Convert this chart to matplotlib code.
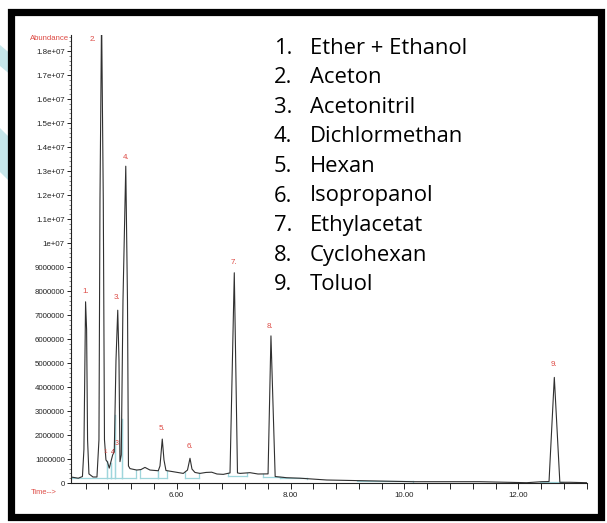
import numpy as np
import matplotlib.pyplot as plt
from matplotlib.patches import Rectangle, Polygon
from matplotlib.ticker import FuncFormatter, MultipleLocator

W, H = 607, 523

# chromatogram trace: retention time (min) and abundance (millions)
trace_time = [4.143, 4.196, 4.272, 4.345, 4.371, 4.400, 4.418, 4.435, 4.459, 4.530,
              4.600, 4.635, 4.653, 4.681, 4.711, 4.732, 4.758, 4.785, 4.816, 4.876,
              4.904, 4.934, 4.965, 4.987, 5.004, 5.027, 5.057, 5.106, 5.136, 5.153,
              5.180, 5.297, 5.373, 5.443, 5.531, 5.677, 5.707, 5.747, 5.777, 5.812,
              5.940, 6.116, 6.190, 6.234, 6.269, 6.321, 6.409, 6.515, 6.615, 6.708,
              6.819, 6.937, 7.012, 7.068, 7.112, 7.288, 7.428, 7.605, 7.656, 7.730,
              7.932, 8.166, 8.635, 9.162, 10.156, 11.328, 12.148, 12.411, 12.540, 12.633,
              12.730, 12.909, 13.200]
trace_abund = [0.25, 0.23, 0.20, 0.27, 1.40, 7.55, 6.40, 1.80, 0.38, 0.25,
               0.25, 1.80, 11.8, 19.5, 11.8, 1.80, 0.96, 0.875, 0.62, 1.17,
               1.30, 5.10, 7.20, 5.10, 0.89, 1.17, 7.60, 13.2, 7.60, 0.71,
               0.60, 0.54, 0.56, 0.65, 0.54, 0.51, 0.71, 1.83, 0.96, 0.52,
               0.47, 0.40, 0.54, 1.03, 0.58, 0.44, 0.40, 0.44, 0.45, 0.375,
               0.36, 0.42, 8.76, 0.42, 0.40, 0.43, 0.375, 0.38, 6.13, 0.27,
               0.22, 0.20, 0.125, 0.10, 0.054, 0.054, 0.0125, 0.054, 0.06, 4.40,
               0.03, 0.03, 0.0125]

# integration baselines (cyan)
integ_start = [4.161, 4.770, 4.841, 4.916, 5.034, 5.355, 5.666, 6.146, 6.906, 7.521, 7.815, 9.162, 12.382]
integ_end = [4.770, 4.841, 4.916, 5.034, 5.285, 5.666, 5.835, 6.397, 7.230, 7.872, 8.284, 10.156, 12.786]
integ_level = [0.20, 0.20, 0.20, 0.20, 0.20, 0.20, 0.20, 0.22, 0.30, 0.26, 0.20, 0.08, 0.04]

peak_names = ['1.', '2.', '3.', '4.', '5.', '6.', '7.', '8.', '9.']
label_time = [4.407, 4.530, 4.951, 5.109, 5.742, 6.234, 7.007, 7.639, 12.629]
label_abund = [7.96, 18.46, 7.71, 13.58, 2.29, 1.54, 9.17, 6.54, 4.92]

compounds = ['Ether + Ethanol', 'Aceton', 'Acetonitril', 'Dichlormethan', 'Hexan',
             'Isopropanol', 'Ethylacetat', 'Cyclohexan', 'Toluol']

red = '#dd4a44'
cyan = '#9fd6dc'

fig = plt.figure(figsize=(W / 100, H / 100), dpi=100)

# decorative cyan stripes at the left edge
for pts in ([(0, 45), (12, 55), (12, 76), (0, 66)], [(0, 128), (12, 140), (12, 184), (0, 172)]):
    fig.patches.append(Polygon([(x / W, 1 - y / H) for x, y in pts], closed=True, zorder=-3,
                               transform=fig.transFigure, facecolor='#c6e6ea', edgecolor='none'))

# black frame
fig.patches.append(Rectangle((10.5 / W, 1 - 516.5 / H), 590 / W, 505 / H, transform=fig.transFigure,
                             facecolor='white', edgecolor='black', linewidth=5.2, zorder=-2))

ax = fig.add_axes([71 / W, 1 - 483 / H, (586.6 - 71) / W, (483 - 35) / H])
ax.set_facecolor('none')

t = np.array(trace_time)
a = np.array(trace_abund) * 1e6
ax.plot(t, a, color='#303030', lw=0.8, zorder=3)

for s, e, lv in zip(integ_start, integ_end, integ_level):
    ax.plot([s, e], [lv * 1e6, lv * 1e6], color=cyan, lw=0.9, zorder=2)
    for x in (s, e):
        ax.plot([x, x], [lv * 1e6, np.interp(x, t, a)], color=cyan, lw=0.9, zorder=2)

for name, x, y in zip(peak_names, label_time, label_abund):
    ax.text(x, y * 1e6, name, color=red, fontsize=5.8, ha='center', va='center',
            family='Liberation Sans')

# tiny overlapping integration labels near 5 min
ax.text(4.75, 1.3e6, '1', color=red, fontsize=4.5, ha='center', va='center', family='Liberation Sans')
ax.text(4.88, 1.25e6, '4', color='#b03030', fontsize=5, ha='center', va='center', family='Liberation Sans')
ax.text(4.95, 1.65e6, '3', color=red, fontsize=5, ha='center', va='center', family='Liberation Sans')

ax.set_xlim(4.144, 13.2)
ax.set_ylim(0, (483 - 35) / 24 * 1e6)

for sp in ('top', 'right'):
    ax.spines[sp].set_visible(False)
for sp in ('left', 'bottom'):
    ax.spines[sp].set_linewidth(0.8)
    ax.spines[sp].set_color('#222222')

ax.set_yticks(np.arange(0, 1.85e7, 1e6))
ax.yaxis.set_minor_locator(MultipleLocator(2e5))
ax.yaxis.set_major_formatter(FuncFormatter(lambda v, p: '%g' % v if v >= 1e7 else '%d' % v))
ax.set_xticks([6, 8, 10, 12])
ax.set_xticks(np.arange(4.4, 13.25, 0.4), minor=True)
ax.xaxis.set_major_formatter(FuncFormatter(lambda v, p: '%.2f' % v))

ax.tick_params(axis='y', which='major', length=3, width=0.7, labelsize=5.7, pad=1.5, colors='#222222')
ax.tick_params(axis='y', which='minor', length=1.5, width=0.5, colors='#555555')
ax.tick_params(axis='x', which='both', length=4, width=0.7, labelsize=5.7, pad=2.5, colors='#222222')
for lab in ax.get_xticklabels() + ax.get_yticklabels():
    lab.set_family('Liberation Sans')

fig.text(69 / W, 1 - 38 / H, 'Abundance', color=red, fontsize=5.6, ha='right', va='center',
         family='Liberation Sans')
fig.text(31 / W, 1 - 492 / H, 'Time-->', color=red, fontsize=5.4, ha='left', va='center',
         family='Liberation Sans')

# compound list
for i, name in enumerate(compounds):
    y = 1 - (48 + i * 29.6) / H
    fig.text(274 / W, y, '%d.' % (i + 1), fontsize=15.8, ha='left', va='center', family='Open Sans')
    fig.text(310 / W, y, name, fontsize=15.8, ha='left', va='center', family='Open Sans')

fig.savefig('out.png', dpi=100)
